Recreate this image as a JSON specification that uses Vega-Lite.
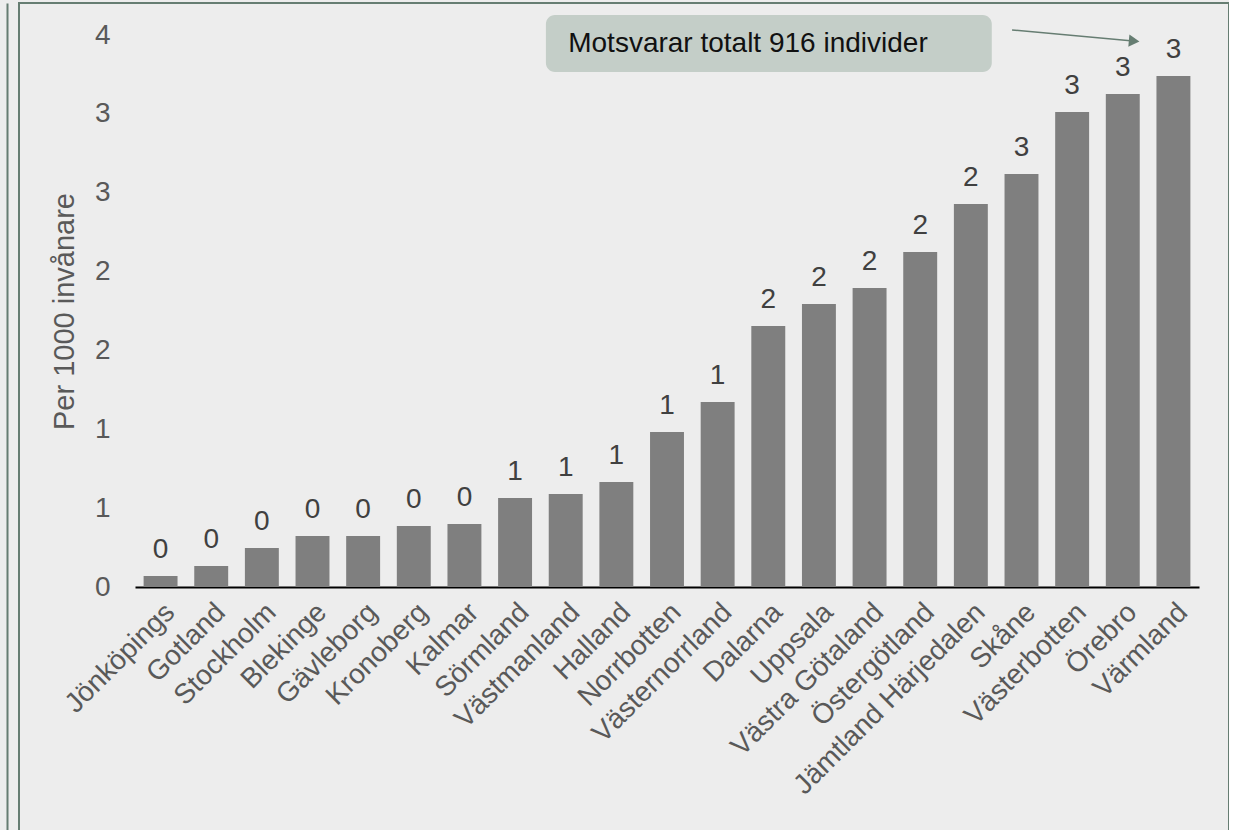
{
  "$schema": "https://vega.github.io/schema/vega-lite/v6.json",
  "width": 1210,
  "height": 840,
  "autosize": "none",
  "padding": {"left": 19, "top": 3, "right": 0, "bottom": 0},
  "background": "#ededed",
  "config": {
    "view": {"stroke": "#667d72", "strokeWidth": 2},
    "font": "Liberation Sans",
    "axis": {"labelFont": "Liberation Sans", "titleFont": "Liberation Sans"}
  },
  "datasets": {
    "bars": [
      {"region": "Jönköpings", "value": 0.07},
      {"region": "Gotland", "value": 0.133},
      {"region": "Stockholm", "value": 0.247},
      {"region": "Blekinge", "value": 0.323},
      {"region": "Gävleborg", "value": 0.323},
      {"region": "Kronoberg", "value": 0.387},
      {"region": "Kalmar", "value": 0.40},
      {"region": "Sörmland", "value": 0.564},
      {"region": "Västmanland", "value": 0.590},
      {"region": "Halland", "value": 0.666},
      {"region": "Norrbotten", "value": 0.983},
      {"region": "Västernorrland", "value": 1.173},
      {"region": "Dalarna", "value": 1.655},
      {"region": "Uppsala", "value": 1.794},
      {"region": "Västra Götaland", "value": 1.896},
      {"region": "Östergötland", "value": 2.124},
      {"region": "Jämtland Härjedalen", "value": 2.429},
      {"region": "Skåne", "value": 2.619},
      {"region": "Västerbotten", "value": 3.012},
      {"region": "Örebro", "value": 3.126},
      {"region": "Värmland", "value": 3.240}
    ],
    "box": [{"x1": 8.11, "x2": 16.91, "y1": 3.265, "y2": 3.627, "tx": 8.55, "ty": 3.446, "label": "Motsvarar totalt 916 individer"}],
    "arrow": [{"x1": 17.31, "y1": 3.532, "x2": 19.70, "y2": 3.462, "hx": 19.72, "hy": 3.461}]
  },
  "resolve": {"scale": {"x": "independent", "y": "independent"}, "axis": {"x": "independent", "y": "independent"}},
  "layer": [
    {
      "data": {"name": "bars"},
      "encoding": {
        "x": {
          "field": "region", "type": "nominal", "sort": null,
          "scale": {"range": [116, 1180], "paddingInner": 0.33, "paddingOuter": 0.17},
          "axis": {
            "title": null, "orient": "bottom", "offset": -256,
            "ticks": false, "domain": true, "domainColor": "#000000", "domainWidth": 2,
            "labelAngle": -45, "labelFontSize": 28, "labelColor": "#595959",
            "labelPadding": 11, "labelLimit": 400, "labelOverlap": false, "labelBound": false
          }
        },
        "y": {
          "field": "value", "type": "quantitative",
          "scale": {"domain": [0, 3.5], "range": [584, 32], "nice": false, "zero": true},
          "axis": {
            "title": "Per 1000 invånare", "orient": "left", "offset": -116,
            "values": [0, 0.5, 1, 1.5, 2, 2.5, 3, 3.5], "format": ".0f",
            "domain": false, "ticks": false, "grid": false,
            "labelFontSize": 28, "labelColor": "#595959", "labelPadding": 25,
            "titleFontSize": 29, "titleColor": "#595959", "titleFontWeight": "normal",
            "titlePadding": 15
          }
        }
      },
      "layer": [
        {"mark": {"type": "bar", "color": "#7f7f7f"}},
        {
          "mark": {"type": "text", "baseline": "alphabetic", "dy": -18, "fontSize": 28, "color": "#404040"},
          "encoding": {"text": {"field": "value", "type": "quantitative", "format": ".0f"}}
        }
      ]
    },
    {
      "layer": [
        {
          "data": {"name": "box"},
          "mark": {"type": "rect", "color": "#c4cec8", "cornerRadius": 9},
          "encoding": {
            "x": {"field": "x1", "type": "quantitative", "scale": {"domain": [0, 21], "range": [116, 1180], "nice": false, "zero": false}, "axis": null},
            "x2": {"field": "x2"},
            "y": {"field": "y1", "type": "quantitative",
                  "scale": {"domain": [-1.62319, 3.70290], "nice": false, "zero": false},
                  "axis": {"orient": "left", "offset": 12, "labels": false, "ticks": false, "grid": false, "title": null, "domain": true, "domainColor": "#667d72", "domainWidth": 2}},
            "y2": {"field": "y2"}
          }
        },
        {
          "data": {"name": "box"},
          "mark": {"type": "text", "align": "left", "baseline": "middle", "fontSize": 28, "color": "#111111"},
          "encoding": {
            "x": {"field": "tx", "type": "quantitative", "axis": null},
            "y": {"field": "ty", "type": "quantitative",
                  "axis": {"orient": "left", "offset": 12, "labels": false, "ticks": false, "grid": false, "title": null, "domain": true, "domainColor": "#667d72", "domainWidth": 2}},
            "text": {"field": "label"}
          }
        },
        {
          "data": {"name": "arrow"},
          "mark": {"type": "rule", "color": "#667d72", "strokeWidth": 1.5},
          "encoding": {
            "x": {"field": "x1", "type": "quantitative", "axis": null},
            "y": {"field": "y1", "type": "quantitative",
                  "axis": {"orient": "left", "offset": 12, "labels": false, "ticks": false, "grid": false, "title": null, "domain": true, "domainColor": "#667d72", "domainWidth": 2}},
            "x2": {"field": "x2"},
            "y2": {"field": "y2"}
          }
        },
        {
          "data": {"name": "arrow"},
          "mark": {"type": "point", "shape": "triangle-right", "filled": true, "color": "#667d72", "size": 150, "angle": 5, "opacity": 1},
          "encoding": {
            "x": {"field": "hx", "type": "quantitative", "axis": null},
            "y": {"field": "hy", "type": "quantitative",
                  "axis": {"orient": "left", "offset": 12, "labels": false, "ticks": false, "grid": false, "title": null, "domain": true, "domainColor": "#667d72", "domainWidth": 2}}
          }
        }
      ]
    }
  ]
}
